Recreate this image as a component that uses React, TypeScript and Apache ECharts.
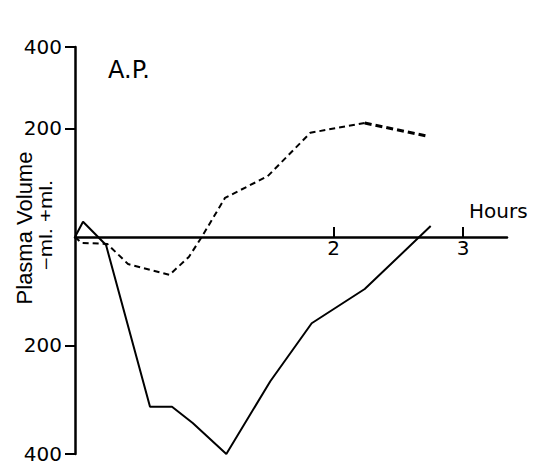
import React, { useEffect, useRef } from "react";
import * as echarts from "echarts";

// Hours after start
const solidX = [0, 0.062, 0.24, 0.58, 0.75, 0.91, 1.17, 1.51, 1.83, 2.24, 2.75];
// Plasma volume change (ml), solid curve
const solidY = [0, 28, -15, -313, -313, -343, -400, -266, -159, -96, 20];

const dashX = [0, 0.05, 0.25, 0.41, 0.73, 0.88, 0.98, 1.16, 1.49, 1.82, 2.24];
const dashY = [0, -11, -13, -50, -70, -37, 0, 72, 112, 192, 210];
// final, heavier dashed segment
const dashEndX = [2.24, 2.72];
const dashEndY = [210, 186];

const xTickValues = [2, 3];
const xTickLabels = ["2", "3"];
const yTickValues = [-400, -200, 200, 350];
const yTickLabels = ["400", "200", "200", "400"];

const FONT = "DejaVu Sans";
const FONT2 = "Liberation Sans";
const Y_MIN = -400;
const Y_MAX = 350;
const GRID = { left: 75, right: 32, top: 47, bottom: 12 };
const H = 466;

export default function App() {
  const ref = useRef<HTMLDivElement>(null);
  useEffect(() => {
    const chart = echarts.init(ref.current!, null, { renderer: "svg" });
    const pair = (xs: number[], ys: number[]) => xs.map((x, i) => [x, ys[i]]);
    const gridH = H - GRID.top - GRID.bottom;
    const zeroOffset = -(gridH * (0 - Y_MIN)) / (Y_MAX - Y_MIN);
    chart.setOption({
      animation: false,
      backgroundColor: "#fff",
      grid: GRID,
      xAxis: {
        type: "value",
        min: 0,
        max: 3.34,
        offset: zeroOffset,
        axisLine: { onZero: false, lineStyle: { color: "#000", width: 2.5 } },
        axisTick: {
          show: true,
          inside: true,
          length: 10,
          lineStyle: { color: "#000", width: 2 },
          customValues: xTickValues,
        },
        axisLabel: {
          customValues: xTickValues,
          formatter: (v: number) => xTickLabels[xTickValues.indexOf(v)] ?? "",
          color: "#000",
          fontFamily: FONT,
          fontSize: 20,
          margin: 1,
        },
        splitLine: { show: false },
      },
      yAxis: {
        type: "value",
        min: Y_MIN,
        max: Y_MAX,
        axisLine: { show: true, onZero: false, lineStyle: { color: "#000", width: 2.5 } },
        axisTick: {
          show: true,
          length: 10,
          lineStyle: { color: "#000", width: 2 },
          customValues: yTickValues,
        },
        axisLabel: {
          customValues: yTickValues,
          formatter: (v: number) => yTickLabels[yTickValues.indexOf(v)] ?? "",
          color: "#000",
          fontFamily: FONT,
          fontSize: 20,
          margin: 13,
        },
        splitLine: { show: false },
      },
      graphic: [
        {
          type: "text",
          left: 108,
          top: 58,
          style: { text: "A.P.", fontFamily: FONT, fontSize: 24, fill: "#000" },
        },
        {
          type: "text",
          left: 469,
          top: 201,
          style: { text: "Hours", fontFamily: FONT, fontSize: 20, fill: "#000" },
        },
        {
          type: "text",
          x: 24,
          y: 228,
          rotation: Math.PI / 2,
          style: {
            text: "Plasma Volume",
            fontFamily: FONT2,
            fontSize: 22,
            fill: "#000",
            align: "center",
            verticalAlign: "middle",
          },
        },
        {
          type: "text",
          x: 46,
          y: 225,
          rotation: Math.PI / 2,
          scaleY: 0.8,
          style: {
            text: "\u2212ml. +ml.",
            fontFamily: FONT2,
            fontSize: 22,
            fill: "#000",
            align: "center",
            verticalAlign: "middle",
          },
        },
      ],
      series: [
        {
          type: "line",
          data: pair(solidX, solidY),
          symbol: "none",
          lineStyle: { color: "#000", width: 2 },
        },
        {
          type: "line",
          data: pair(dashX, dashY),
          symbol: "none",
          lineStyle: { color: "#000", width: 2, type: [6, 4] },
        },
        {
          type: "line",
          data: pair(dashEndX, dashEndY),
          symbol: "none",
          lineStyle: { color: "#000", width: 3, type: [7, 4] },
        },
      ],
    });
    return () => chart.dispose();
  }, []);
  return (
    <div
      ref={ref}
      style={{ position: "fixed", left: 0, top: 0, width: 539, height: 466 }}
    />
  );
}
